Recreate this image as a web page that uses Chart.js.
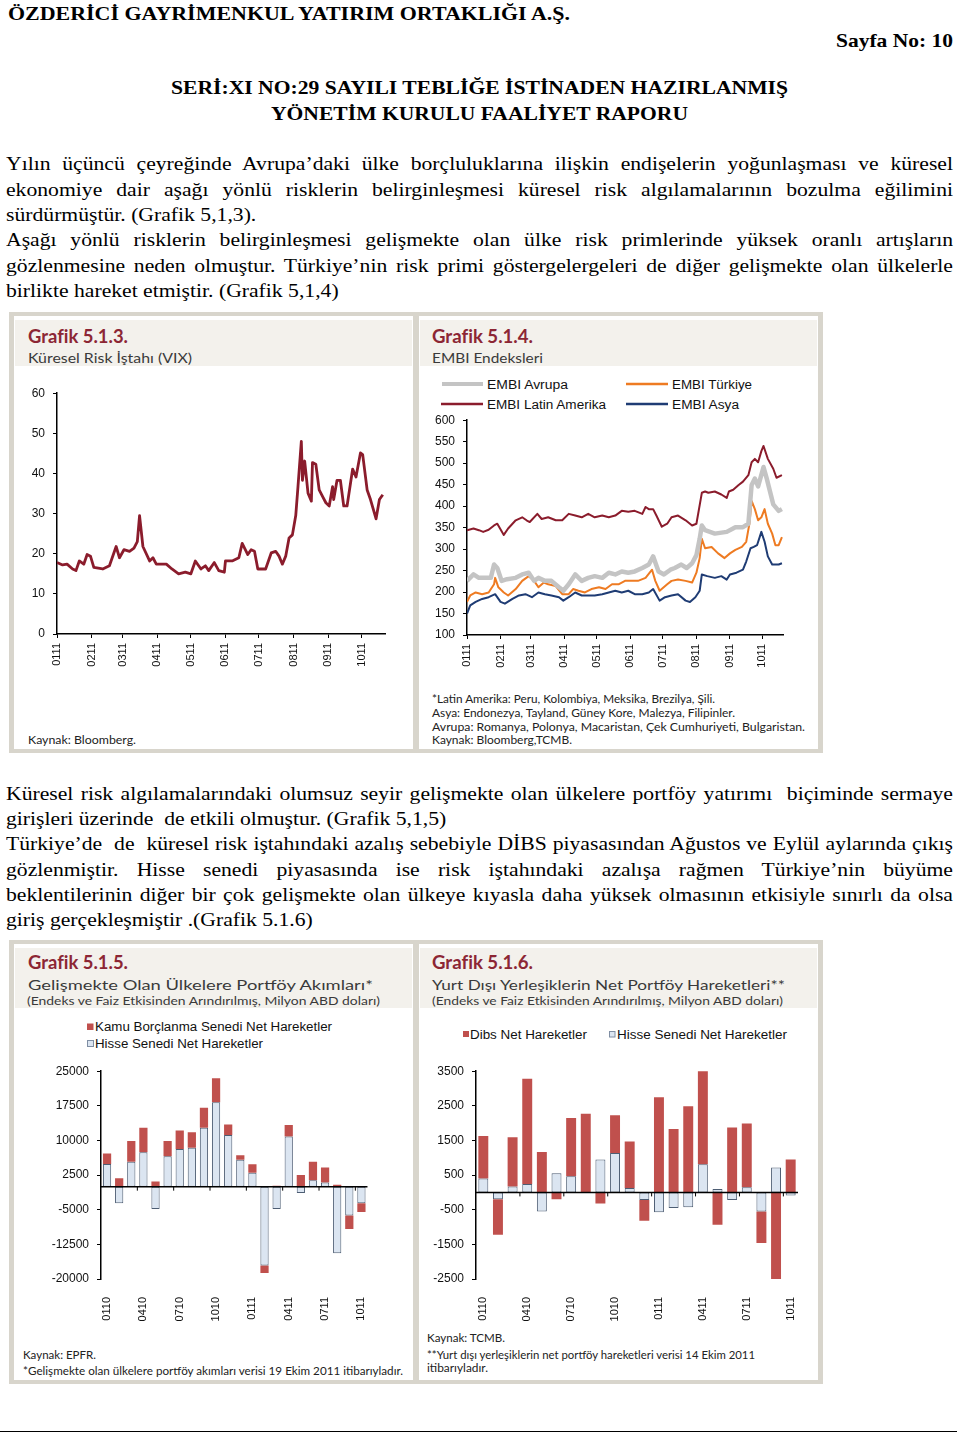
<!DOCTYPE html>
<html lang="tr">
<head>
<meta charset="utf-8">
<title>Sayfa No: 10</title>
<script src="https://cdn.jsdelivr.net/npm/chart.js@4.4.0/dist/chart.umd.min.js"></script>
<style>
html, body { margin: 0; padding: 0; background: #fff; }
body { width: 960px; height: 1434px; position: relative; overflow: hidden; }
#deco { position: absolute; left: 0; top: 0; }
canvas { position: absolute; }
.ln { position: absolute; left: 6px; width: 830px; font-family: 'Liberation Serif', 'Times New Roman', serif; font-size: 19px; line-height: 24px; color: #000; transform-origin: 0 0; transform: scaleX(1.14); }
.j { text-align: justify; text-align-last: justify; }
.hd { font-family: 'Liberation Serif', 'Times New Roman', serif; font-weight: bold; font-size: 19px; fill: #000; }
.ttl { font-family: Lato, 'Noto Sans', sans-serif; font-weight: 700; font-size: 18px; fill: #8c2634; }
.sub { font-family: Lato, 'Noto Sans', sans-serif; font-size: 13px; fill: #3a3a3a; }
.sub2 { font-family: Lato, 'Noto Sans', sans-serif; font-size: 12px; fill: #3a3a3a; }
.note { font-family: Lato, 'Noto Sans', sans-serif; font-size: 11px; fill: #222; }
.lg { font-family: 'Liberation Sans', Arial, sans-serif; font-size: 12px; fill: #111; }
</style>
</head>
<body>
<svg id="deco" width="960" height="1434">
  <!-- figure frames -->
  <rect x="9" y="312" width="814" height="441" fill="#d8d5cc"/>
  <rect x="14" y="316" width="399" height="433" fill="#fff"/>
  <rect x="419" y="316" width="399" height="433" fill="#fff"/>
  <rect x="15" y="320" width="397" height="46" fill="#f3f1ec"/>
  <rect x="420" y="320" width="397" height="46" fill="#f3f1ec"/>
  <rect x="9" y="940" width="814" height="444" fill="#d8d5cc"/>
  <rect x="14" y="944" width="399" height="436" fill="#fff"/>
  <rect x="419" y="944" width="399" height="436" fill="#fff"/>
  <rect x="15" y="948" width="397" height="60" fill="#f3f1ec"/>
  <rect x="420" y="948" width="397" height="60" fill="#f3f1ec"/>
  <line x1="0" y1="1431.5" x2="957" y2="1431.5" stroke="#000" stroke-width="1"/>

  <!-- page header -->
  <text class="hd" x="8" y="20" textLength="562" lengthAdjust="spacingAndGlyphs">ÖZDERİCİ GAYRİMENKUL YATIRIM ORTAKLIĞI A.Ş.</text>
  <text class="hd" x="836" y="47" textLength="117" lengthAdjust="spacingAndGlyphs">Sayfa No: 10</text>
  <text class="hd" x="171" y="93.5" textLength="617" lengthAdjust="spacingAndGlyphs">SERİ:XI NO:29 SAYILI TEBLİĞE İSTİNADEN HAZIRLANMIŞ</text>
  <text class="hd" x="271" y="119.5" textLength="417" lengthAdjust="spacingAndGlyphs">YÖNETİM KURULU FAALİYET RAPORU</text>

  <!-- Grafik 5.1.3 -->
  <text class="ttl" x="28" y="343" textLength="100" lengthAdjust="spacingAndGlyphs">Grafik 5.1.3.</text>
  <text class="sub" x="28" y="362.5" textLength="164" lengthAdjust="spacingAndGlyphs">Küresel Risk İştahı (VIX)</text>
  <text class="note" x="28" y="744" textLength="108" lengthAdjust="spacingAndGlyphs">Kaynak: Bloomberg.</text>

  <!-- Grafik 5.1.4 -->
  <text class="ttl" x="432" y="343" textLength="101" lengthAdjust="spacingAndGlyphs">Grafik 5.1.4.</text>
  <text class="sub" x="432" y="362.5" textLength="111" lengthAdjust="spacingAndGlyphs">EMBI Endeksleri</text>
  <line x1="442" y1="384" x2="483" y2="384" stroke="#c4c4c4" stroke-width="4"/>
  <text class="lg" x="487" y="388.5" textLength="81" lengthAdjust="spacingAndGlyphs">EMBI Avrupa</text>
  <line x1="626" y1="384" x2="668" y2="384" stroke="#ee7b22" stroke-width="2.5"/>
  <text class="lg" x="672" y="388.5" textLength="80" lengthAdjust="spacingAndGlyphs">EMBI Türkiye</text>
  <line x1="441" y1="404" x2="483" y2="404" stroke="#8b1c2c" stroke-width="2.5"/>
  <text class="lg" x="487" y="408.5" textLength="119" lengthAdjust="spacingAndGlyphs">EMBI Latin Amerika</text>
  <line x1="626" y1="404" x2="668" y2="404" stroke="#1f3c74" stroke-width="2.5"/>
  <text class="lg" x="672" y="408.5" textLength="67" lengthAdjust="spacingAndGlyphs">EMBI Asya</text>
  <text class="note" x="432" y="703" textLength="283" lengthAdjust="spacingAndGlyphs">*Latin Amerika: Peru, Kolombiya, Meksika, Brezilya, Şili.</text>
  <text class="note" x="432" y="716.7" textLength="303" lengthAdjust="spacingAndGlyphs">Asya: Endonezya, Tayland, Güney Kore, Malezya, Filipinler.</text>
  <text class="note" x="432" y="730.7" textLength="373" lengthAdjust="spacingAndGlyphs">Avrupa: Romanya, Polonya, Macaristan, Çek Cumhuriyeti, Bulgaristan.</text>
  <text class="note" x="432" y="744" textLength="140" lengthAdjust="spacingAndGlyphs">Kaynak: Bloomberg,TCMB.</text>

  <!-- Grafik 5.1.5 -->
  <text class="ttl" x="28" y="969" textLength="100" lengthAdjust="spacingAndGlyphs">Grafik 5.1.5.</text>
  <text class="sub" x="28" y="990" textLength="345" lengthAdjust="spacingAndGlyphs">Gelişmekte Olan Ülkelere Portföy Akımları*</text>
  <text class="sub2" x="27" y="1005" textLength="353" lengthAdjust="spacingAndGlyphs">(Endeks ve Faiz Etkisinden Arındırılmış, Milyon ABD doları)</text>
  <rect x="87" y="1023.5" width="6.5" height="6.5" fill="#c0504d"/>
  <text class="lg" x="95" y="1031" textLength="237" lengthAdjust="spacingAndGlyphs">Kamu Borçlanma Senedi Net Hareketler</text>
  <rect x="87.5" y="1040.5" width="6" height="6" fill="#dbe5f1" stroke="#7f8ea3" stroke-width="1"/>
  <text class="lg" x="95" y="1048" textLength="168" lengthAdjust="spacingAndGlyphs">Hisse Senedi Net Hareketler</text>
  <text class="note" x="23" y="1359" textLength="73" lengthAdjust="spacingAndGlyphs">Kaynak: EPFR.</text>
  <text class="note" x="23" y="1375" textLength="380" lengthAdjust="spacingAndGlyphs">*Gelişmekte olan ülkelere portföy akımları verisi 19 Ekim 2011 itibarıyladır.</text>

  <!-- Grafik 5.1.6 -->
  <text class="ttl" x="432" y="969" textLength="101" lengthAdjust="spacingAndGlyphs">Grafik 5.1.6.</text>
  <text class="sub" x="432" y="990" textLength="353" lengthAdjust="spacingAndGlyphs">Yurt Dışı Yerleşiklerin Net Portföy Hareketleri**</text>
  <text class="sub2" x="432" y="1005" textLength="351" lengthAdjust="spacingAndGlyphs">(Endeks ve Faiz Etkisinden Arındırılmış, Milyon ABD doları)</text>
  <rect x="463" y="1031" width="6" height="6" fill="#c0504d"/>
  <text class="lg" x="470" y="1039" textLength="117" lengthAdjust="spacingAndGlyphs">Dibs Net Hareketler</text>
  <rect x="609.5" y="1031.5" width="5.5" height="5.5" fill="#dbe5f1" stroke="#7f8ea3" stroke-width="1"/>
  <text class="lg" x="617" y="1039" textLength="170" lengthAdjust="spacingAndGlyphs">Hisse Senedi Net Hareketler</text>
  <text class="note" x="427" y="1342" textLength="78" lengthAdjust="spacingAndGlyphs">Kaynak: TCMB.</text>
  <text class="note" x="427" y="1359" textLength="328" lengthAdjust="spacingAndGlyphs">**Yurt dışı yerleşiklerin net portföy hareketleri verisi 14 Ekim 2011</text>
  <text class="note" x="427" y="1372" textLength="61" lengthAdjust="spacingAndGlyphs">itibarıyladır.</text>
</svg>

<div class="ln j" style="top:152.3px">Yılın üçüncü çeyreğinde Avrupa’daki ülke borçluluklarına ilişkin endişelerin yoğunlaşması ve küresel</div>
<div class="ln j" style="top:177.6px">ekonomiye dair aşağı yönlü risklerin belirginleşmesi küresel risk algılamalarının bozulma eğilimini</div>
<div class="ln" style="top:202.9px">sürdürmüştür. (Grafik 5,1,3).</div>
<div class="ln j" style="top:228.3px">Aşağı yönlü risklerin belirginleşmesi gelişmekte olan ülke risk primlerinde yüksek oranlı artışların</div>
<div class="ln j" style="top:253.6px">gözlenmesine neden olmuştur. Türkiye’nin risk primi göstergelergeleri de diğer gelişmekte olan ülkelerle</div>
<div class="ln" style="top:278.9px">birlikte hareket etmiştir. (Grafik 5,1,4)</div>

<div class="ln j" style="top:781.6px">Küresel risk algılamalarındaki olumsuz seyir gelişmekte olan ülkelere portföy yatırımı&nbsp; biçiminde sermaye</div>
<div class="ln" style="top:806.9px">girişleri üzerinde&nbsp; de etkili olmuştur. (Grafik 5,1,5)</div>
<div class="ln j" style="top:832.3px">Türkiye’de&nbsp; de&nbsp; küresel risk iştahındaki azalış sebebiyle DİBS piyasasından Ağustos ve Eylül aylarında çıkış</div>
<div class="ln j" style="top:857.6px">gözlenmiştir. Hisse senedi piyasasında ise risk iştahındaki azalışa rağmen Türkiye’nin büyüme</div>
<div class="ln j" style="top:882.9px">beklentilerinin diğer bir çok gelişmekte olan ülkeye kıyasla daha yüksek olmasının etkisiyle sınırlı da olsa</div>
<div class="ln" style="top:908.3px">giriş gerçekleşmiştir .(Grafik 5.1.6)</div>

<canvas id="vixChart" width="395" height="306" style="left:10px;top:378px"></canvas>
<canvas id="embiChart" width="385" height="280" style="left:418px;top:405px"></canvas>
<canvas id="flowEmChart" width="375" height="268" style="left:10px;top:1056px"></canvas>
<canvas id="flowTrChart" width="400" height="268" style="left:418px;top:1056px"></canvas>

<script>
// Month ticks for the daily charts (days since 1 Jan 2011)
const monthDays = [0, 31, 59, 90, 120, 151, 181, 212, 243, 273];
const monthLabels = ['0111', '0211', '0311', '0411', '0511', '0611', '0711', '0811', '0911', '1011'];

// Grafik 5.1.3 - VIX
const vixTicks = [0, 10, 20, 30, 40, 50, 60];
const vixDays = [0, 5, 9, 14, 17, 20, 24, 27, 30, 33, 41, 47, 53, 56, 60, 65, 69, 72, 74, 77,
  83, 86, 89, 98, 103, 109, 115, 120, 124, 129, 133, 136, 141, 145, 150, 151, 157, 163, 166, 171,
  174, 177, 180, 187, 192, 196, 199, 202, 205, 208, 211, 214, 216, 219, 220, 222, 225, 228, 229, 232,
  235, 238, 241, 244, 247, 248, 251, 254, 257, 260, 265, 268, 272, 274, 278, 281, 286, 289, 292];
const vixValues = [17.8, 17.2, 17.4, 16.2, 15.8, 18.2, 17.4, 19.8, 19.4, 16.6, 16.2, 17.0, 21.8, 19.0, 21.0, 20.6, 21.4, 23.0, 29.5, 21.8,
  18.2, 19.0, 17.4, 17.4, 16.2, 15.0, 15.4, 15.0, 18.2, 16.2, 17.0, 15.8, 17.8, 15.8, 15.4, 18.2, 18.2, 19.0, 22.6, 19.8,
  21.0, 20.6, 16.2, 16.2, 20.2, 20.6, 19.4, 17.4, 19.4, 23.9, 24.7, 29.5, 36.7, 48.0, 38.3, 43.1, 35.1, 33.1, 42.7, 42.3,
  35.9, 34.3, 32.7, 31.9, 36.7, 33.5, 38.3, 38.3, 31.9, 31.9, 41.1, 39.1, 45.1, 44.7, 35.9, 33.5, 28.7, 33.5, 34.7];

// Grafik 5.1.4 - EMBI indices
const embiTicks = [100, 150, 200, 250, 300, 350, 400, 450, 500, 550, 600];
const avrupaDays = [0, 6, 11, 17, 22, 25, 28, 32, 37, 45, 51, 57, 62, 66, 72, 78, 85, 89, 94, 100,
  106, 112, 118, 125, 131, 137, 143, 149, 155, 162, 168, 172, 177, 182, 188, 192, 198, 203, 208, 212,
  215, 217, 220, 229, 240, 248, 255, 260, 263, 266, 269, 274, 277, 283, 288, 291];
const avrupa = [226, 241, 233, 233, 233, 264, 256, 226, 230, 233, 241, 245, 226, 233, 226, 226, 211, 203, 218, 241,
  226, 233, 237, 233, 245, 241, 248, 245, 248, 256, 264, 283, 248, 241, 252, 256, 264, 256, 267, 286,
  324, 355, 344, 336, 340, 351, 351, 359, 449, 464, 446, 491, 464, 404, 389, 393];
const latinDays = [0, 6, 11, 15, 20, 25, 28, 34, 38, 45, 51, 55, 58, 65, 69, 75, 82, 88, 94, 100,
  106, 112, 118, 125, 131, 137, 143, 149, 155, 162, 165, 168, 172, 175, 180, 185, 189, 195, 202, 208,
  212, 217, 220, 223, 229, 235, 240, 242, 246, 251, 255, 260, 263, 266, 269, 272, 274, 278, 283, 286, 291];
const latin = [344, 348, 344, 340, 345, 355, 359, 333, 348, 367, 374, 367, 363, 382, 370, 374, 367, 367, 382, 378,
  374, 382, 374, 378, 374, 378, 389, 387, 389, 382, 398, 393, 393, 378, 352, 359, 374, 378, 367, 355,
  359, 431, 434, 431, 434, 427, 419, 434, 438, 449, 457, 472, 502, 510, 502, 528, 540, 510, 487, 466, 472];
const turkiyeDays = [0, 3, 8, 14, 20, 25, 26, 29, 34, 38, 45, 51, 57, 62, 66, 71, 75, 82, 88, 94,
  98, 103, 109, 115, 122, 128, 134, 140, 146, 152, 158, 165, 171, 174, 178, 185, 189, 195, 202, 208,
  212, 215, 217, 220, 226, 232, 238, 243, 248, 254, 258, 261, 263, 266, 269, 272, 275, 278, 282, 285, 288, 291];
const turkiye = [177, 192, 199, 195, 199, 218, 233, 211, 199, 192, 207, 226, 237, 226, 211, 222, 218, 214, 195, 195,
  207, 203, 199, 207, 211, 207, 218, 218, 226, 226, 226, 233, 252, 226, 203, 218, 226, 229, 226, 222,
  245, 279, 324, 302, 305, 290, 279, 290, 298, 305, 317, 360, 412, 393, 367, 374, 393, 359, 336, 309, 309, 328];
const asyaDays = [0, 3, 8, 14, 20, 26, 31, 35, 42, 48, 54, 60, 66, 72, 78, 85, 89, 94, 100, 106,
  112, 118, 125, 131, 137, 143, 149, 155, 162, 168, 172, 178, 183, 189, 195, 202, 206, 211, 215, 217,
  222, 229, 235, 240, 243, 249, 255, 258, 262, 265, 268, 272, 275, 278, 282, 288, 291];
const asya = [150, 169, 177, 184, 188, 195, 177, 173, 184, 192, 195, 188, 199, 195, 192, 188, 180, 188, 199, 192,
  192, 192, 195, 199, 203, 199, 203, 195, 195, 199, 207, 180, 188, 192, 195, 180, 177, 188, 203, 241,
  237, 233, 237, 229, 241, 245, 252, 271, 302, 305, 309, 340, 317, 283, 264, 264, 267];

// Grafik 5.1.5 / 5.1.6 - monthly flows (Jan 2010 - Oct 2011)
const barMonths = ['0110', '0210', '0310', '0410', '0510', '0610', '0710', '0810', '0910', '1010', '1110', '1210',
  '0111', '0211', '0311', '0411', '0511', '0611', '0711', '0811', '0911', '1011'];
const emTicks = [-20000, -12500, -5000, 2500, 10000, 17500, 25000];
const hisseEm = [4900, -3600, 5400, 7460, -4860, 6600, 8160, 8400, 12760, 18300, 11200, 5800,
  3000, -17100, -4860, 10850, -1400, 1400, 900, -14400, -6250, -3600];
const kamuEm = [2300, 1800, 4500, 5300, 1100, 3300, 4000, 3400, 4300, 5150, 2250, 1000,
  1850, -1600, 200, 2500, 2500, 4000, 3250, 400, -2900, -1900];
const trTicks = [-2500, -1500, -500, 500, 1500, 2500, 3500];
const hisseTr = [400, -200, 170, 240, -550, 550, 470, 0, 950, 1140, 130, -220,
  -570, -450, -430, 815, 100, -220, 150, -550, 720, -90];
const dibsTr = [1230, -1020, 1420, 3040, 1170, -200, 1680, 2270, -320, 1090, 1340, -600,
  2745, 1830, 2490, 2730, -935, 1877, 1840, -910, -2560, 950];

// Body text is set a bit wide like the scanned page; shrink a line if it would not fit
const BODY_WIDTH = 947, BODY_STRETCH = 1.14;
document.querySelectorAll('.ln').forEach(el => {
    el.style.whiteSpace = 'nowrap';
    el.style.width = 'auto';
    el.style.display = 'inline-block';
    const natural = el.getBoundingClientRect().width / BODY_STRETCH;
    const k = Math.min(BODY_STRETCH, (BODY_WIDTH - 2) / natural);
    el.style.display = '';
    el.style.whiteSpace = 'normal';
    el.style.width = (BODY_WIDTH / k) + 'px';
    el.style.transform = 'scaleX(' + k + ')';
});

Chart.defaults.font.family = "'Liberation Sans', Arial, sans-serif";
Chart.defaults.color = '#111';

const pts = (xs, ys) => xs.map((x, i) => ({ x: x, y: ys[i] }));

const common = {
    responsive: false,
    animation: false,
    events: [],
    plugins: { legend: { display: false }, tooltip: { enabled: false } }
};

// Value axis with fixed ticks and fixed width so the plot lands where the picture has it
function yAxis(ticks, width, extra) {
    return Object.assign({
        min: ticks[0],
        max: ticks[ticks.length - 1],
        afterBuildTicks: s => { s.ticks = ticks.map(v => ({ value: v })); },
        afterFit: s => { s.width = width; },
        ticks: { callback: v => String(v), font: { size: 12 }, color: '#111', padding: 8 },
        grid: { drawOnChartArea: false, tickLength: 4, color: '#000' },
        border: { color: '#000', width: 1.5 }
    }, extra || {});
}

function monthAxis(max, height) {
    return {
        type: 'linear',
        min: 0,
        max: max,
        afterBuildTicks: s => { s.ticks = monthDays.map(v => ({ value: v })); },
        afterFit: s => { s.height = height; },
        ticks: { callback: (v, i) => monthLabels[i], autoSkip: false, minRotation: 90, maxRotation: 90,
                 font: { size: 11 }, color: '#111', padding: 5 },
        grid: { drawOnChartArea: false, tickLength: 4, color: '#000' },
        border: { color: '#000', width: 1.5 }
    };
}

function barMonthAxis(height) {
    return {
        type: 'category',
        stacked: true,
        afterFit: s => { s.height = height; },
        ticks: { callback: (v, i) => (i % 3 === 0 ? barMonths[i] : ''), autoSkip: false, minRotation: 90, maxRotation: 90,
                 font: { size: 11 }, color: '#111', padding: 10 },
        grid: { display: false },
        border: { display: false }
    };
}

// Black zero line across the bar plots, with small quarter ticks under it
const zeroLine = {
    id: 'zeroLine',
    afterDatasetsDraw(chart) {
        const { ctx, chartArea, scales } = chart;
        const y = scales.y.getPixelForValue(0);
        ctx.save();
        ctx.strokeStyle = '#000';
        ctx.lineWidth = 1.5;
        ctx.beginPath();
        ctx.moveTo(chartArea.left, y);
        ctx.lineTo(chartArea.right, y);
        ctx.stroke();
        ctx.lineWidth = 1;
        for (let i = 3; i < chart.data.labels.length; i += 3) {
            const x = (scales.x.getPixelForValue(i - 1) + scales.x.getPixelForValue(i)) / 2;
            ctx.beginPath();
            ctx.moveTo(x, y);
            ctx.lineTo(x, y + 4);
            ctx.stroke();
        }
        ctx.restore();
    }
};

function lineSet(xs, ys, color, width) {
    return { data: pts(xs, ys), borderColor: color, borderWidth: width, pointRadius: 0, tension: 0,
             borderJoinStyle: 'round', fill: false };
}

// Grafik 5.1.3
new Chart(document.getElementById('vixChart'), {
    type: 'line',
    data: { datasets: [lineSet(vixDays, vixValues, '#8b1c2c', 2.8)] },
    options: Object.assign({}, common, {
        layout: { padding: { top: 10, right: 20, left: 0, bottom: 0 } },
        scales: { x: monthAxis(294, 50), y: yAxis(vixTicks, 47) }
    })
});

// Grafik 5.1.4
new Chart(document.getElementById('embiChart'), {
    type: 'line',
    data: {
        datasets: [
            lineSet(avrupaDays, avrupa, '#c4c4c4', 4.5),
            lineSet(latinDays, latin, '#8b1c2c', 2),
            lineSet(turkiyeDays, turkiye, '#ee7b22', 2),
            lineSet(asyaDays, asya, '#1f3c74', 2)
        ]
    },
    options: Object.assign({}, common, {
        layout: { padding: { top: 10, right: 20, left: 0, bottom: 0 } },
        scales: { x: monthAxis(292, 50), y: yAxis(embiTicks, 49) }
    })
});

function barSets(blueLabel, blue, redLabel, red) {
    return [
        { label: blueLabel, data: blue, backgroundColor: '#dbe5f1', borderColor: '#4d5d73', borderWidth: 1,
          borderSkipped: false, barPercentage: 0.68, categoryPercentage: 1 },
        { label: redLabel, data: red, backgroundColor: '#c0504d', borderWidth: 0,
          barPercentage: 0.68, categoryPercentage: 1 }
    ];
}

// Grafik 5.1.5
new Chart(document.getElementById('flowEmChart'), {
    type: 'bar',
    data: { labels: barMonths, datasets: barSets('Hisse Senedi Net Hareketler', hisseEm, 'Kamu Borçlanma Senedi Net Hareketler', kamuEm) },
    options: Object.assign({}, common, {
        layout: { padding: { top: 11, right: 17, left: 0, bottom: 0 } },
        scales: { x: barMonthAxis(45), y: yAxis(emTicks, 91, { stacked: true }) }
    }),
    plugins: [zeroLine]
});

// Grafik 5.1.6
new Chart(document.getElementById('flowTrChart'), {
    type: 'bar',
    data: { labels: barMonths, datasets: barSets('Hisse Senedi Net Hareketler', hisseTr, 'Dibs Net Hareketler', dibsTr) },
    options: Object.assign({}, common, {
        layout: { padding: { top: 11, right: 20, left: 0, bottom: 0 } },
        scales: { x: barMonthAxis(45), y: yAxis(trTicks, 58, { stacked: true }) }
    }),
    plugins: [zeroLine]
});
</script>
</body>
</html>
